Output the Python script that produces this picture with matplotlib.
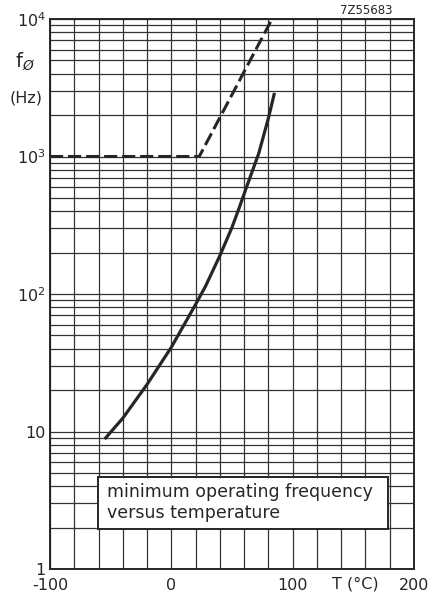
import matplotlib
matplotlib.use("Agg")
import matplotlib.pyplot as plt
from matplotlib.patches import Rectangle
import numpy as np

# solid curve: minimum operating frequency (Hz) vs temperature (degC)
temp = [-55, -40, -20, 0, 20, 28, 40, 50, 56, 62, 72, 80, 85]
freq = [8.8, 12.5, 22, 41, 84, 113, 190, 305, 425, 600, 1050, 1900, 2900]

# dashed limit line
temp_lim = [-100, 23, 83]
freq_lim = [1000, 1000, 10000]

x_ticks = list(range(-100, 201, 20))
x_labels = ["-100", "", "", "", "", "0", "", "", "", "", "100", "", "", "", "", "200"]
y_ticks = [1, 10, 100, 1000, 10000]
y_labels = ["1", "10", "$10^2$", "$10^3$", "$10^4$"]

ink = "#262626"

fig = plt.figure(figsize=(4.42, 5.94), dpi=100)
ax = fig.add_axes([50 / 442, 1 - 569 / 594, 364 / 442, 550 / 594])

ax.set_xlim(-100, 200)
ax.set_yscale("log")
ax.set_ylim(1, 10000)

ax.set_xticks(x_ticks)
ax.set_xticklabels(x_labels, fontsize=11.5)
ax.set_yticks(y_ticks)
ax.set_yticklabels(y_labels, fontsize=11.5)
ax.yaxis.set_minor_locator(matplotlib.ticker.LogLocator(base=10, subs=np.arange(2, 10)))
ax.yaxis.set_minor_formatter(matplotlib.ticker.NullFormatter())
ax.tick_params(which="both", length=0, colors=ink)
ax.tick_params(axis="x", pad=6.5)
ax.tick_params(axis="y", pad=3)

ax.grid(True, which="both", color="#333333", lw=0.9)
for s in ax.spines.values():
    s.set_linewidth(1.4)
    s.set_color(ink)

ax.plot(temp, freq, color=ink, lw=2.3, solid_joinstyle="round", solid_capstyle="butt")
ax.plot(temp_lim, freq_lim, color=ink, lw=2.2, ls=(0, (4.3, 1.6)))

# caption box
ax.add_patch(Rectangle((0.133, 0.072), 0.796, 0.096, transform=ax.transAxes,
                       facecolor="white", edgecolor=ink, lw=1.4, zorder=5))
ax.text(0.157, 0.121, "minimum operating frequency\nversus temperature",
        transform=ax.transAxes, fontsize=12.5, va="center", ha="left",
        color=ink, linespacing=1.2, zorder=6)

fig.text(355 / 442, 1 - 584 / 594, "T (°C)", fontsize=11.5, ha="center", va="center", color=ink)
fig.text(25 / 442, 1 - 62 / 594, "f$_Ø$", fontsize=14, ha="center", va="center", color=ink)
fig.text(26 / 442, 1 - 98 / 594, "(Hz)", fontsize=11.5, ha="center", va="center", color=ink)
fig.text(366 / 442, 1 - 11 / 594, "7Z55683", fontsize=8.5, ha="center", va="center", color=ink)

fig.savefig("out.png", dpi=100)
